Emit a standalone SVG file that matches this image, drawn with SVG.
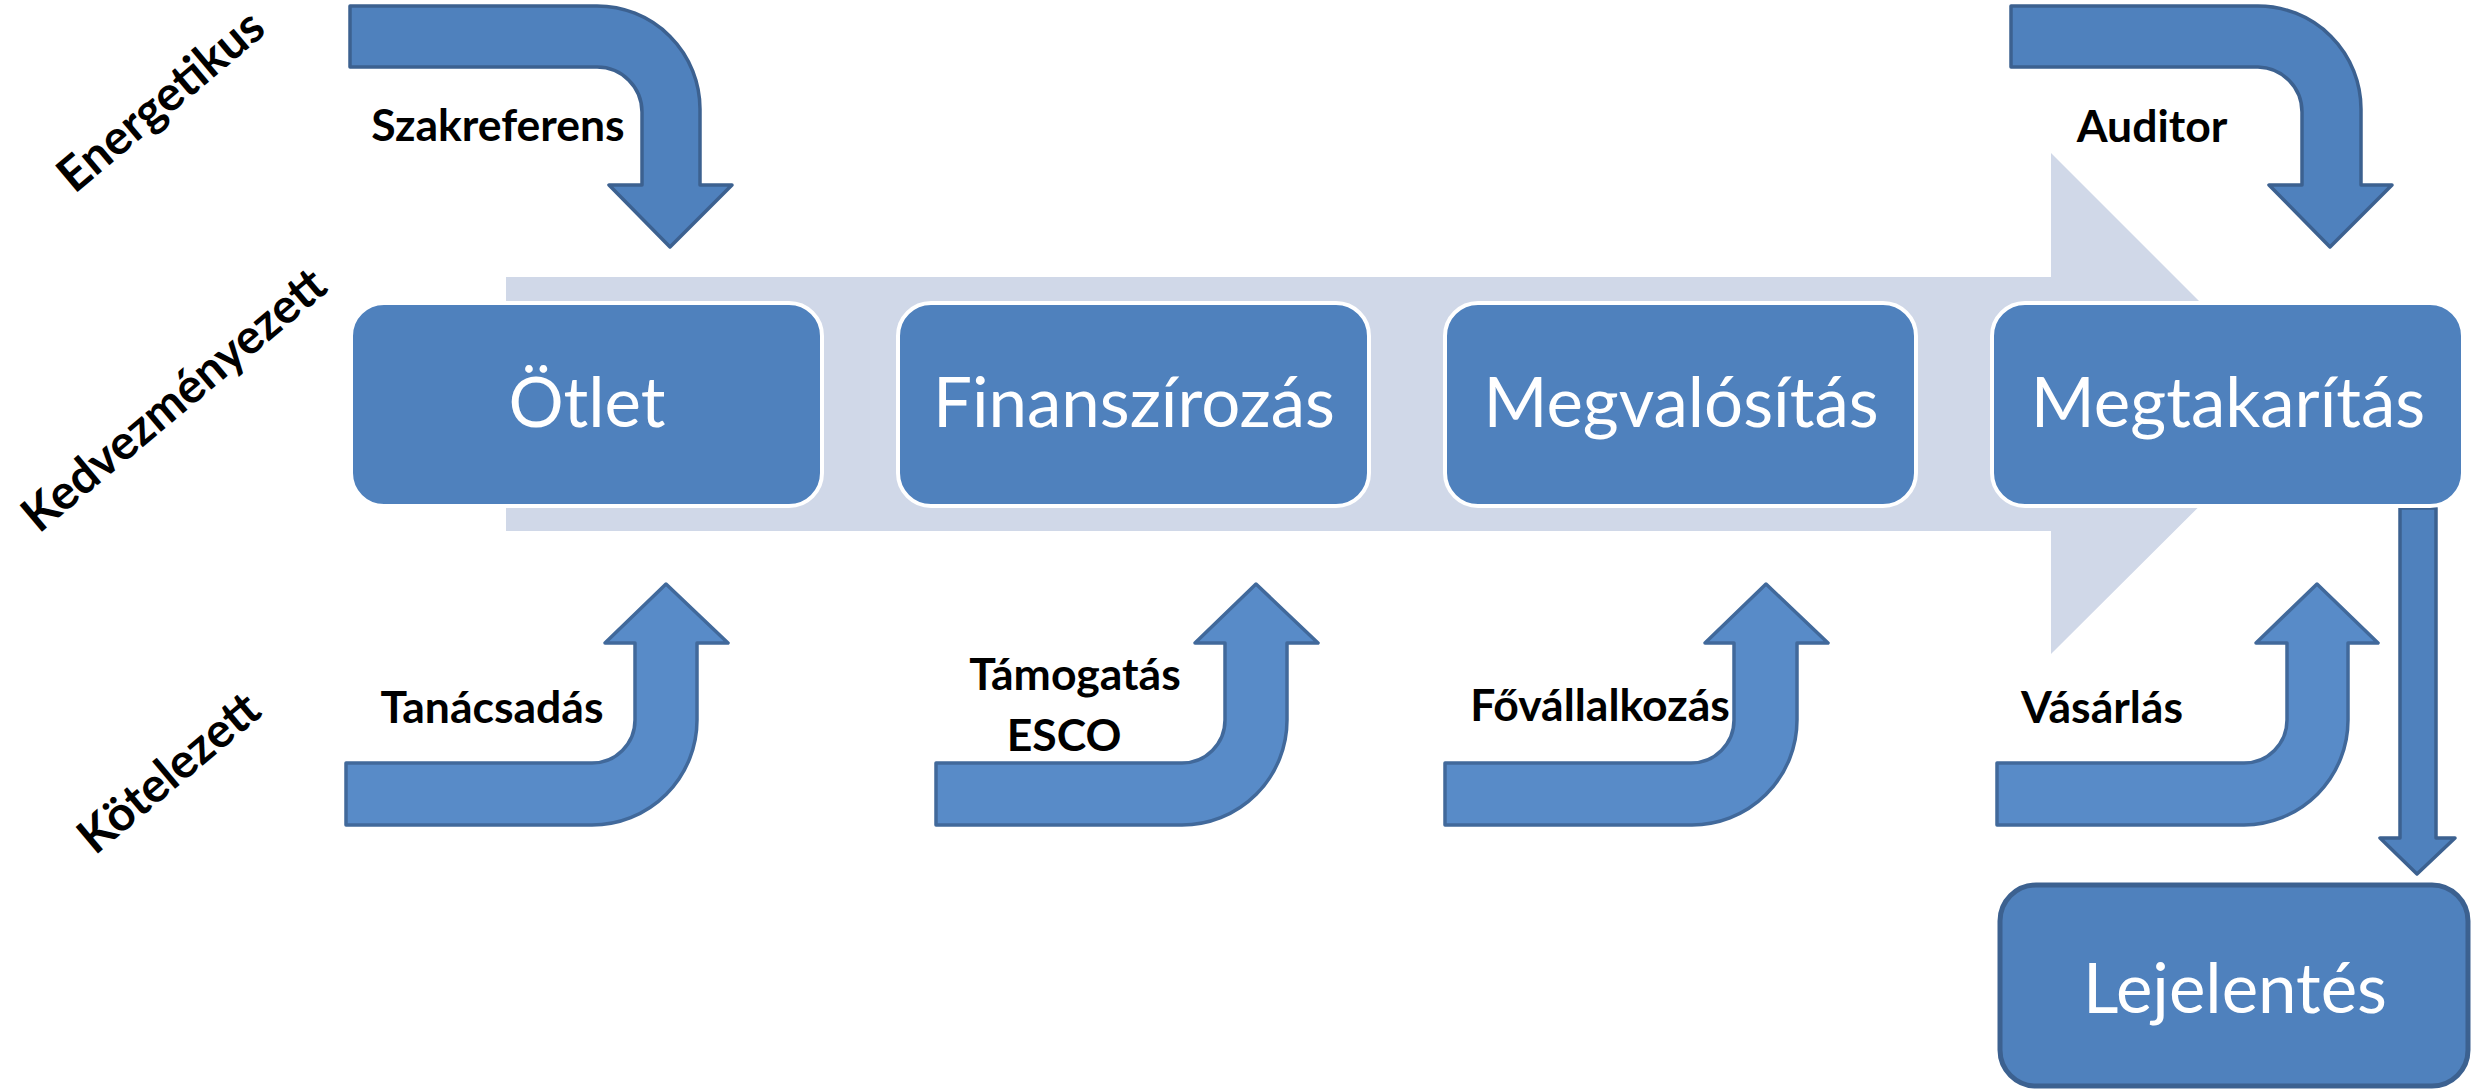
<svg xmlns="http://www.w3.org/2000/svg" width="2478" height="1090" viewBox="0 0 2478 1090">
<style>
.bg{fill:#D0D8E8}
.box{fill:#4F81BD;stroke:#FFFFFF;stroke-width:4}
.box2{fill:#4F81BD;stroke:#3C6190;stroke-width:5}
.btxt{font-family:Lato,"Open Sans",sans-serif;font-size:69px;fill:#FFFFFF;text-anchor:middle}
.arr-top{fill:#4F81BD;stroke:#3C6190;stroke-width:3.5;stroke-linejoin:round}
.arr-bot{fill:#588BC8;stroke:#41699B;stroke-width:3.5;stroke-linejoin:round}
.lbl{font-family:Lato,"Open Sans",sans-serif;font-weight:700;font-size:44.5px;fill:#000000;text-anchor:middle}
.side{font-family:Lato,"Open Sans",sans-serif;font-weight:700;font-size:48px;fill:#000000;text-anchor:middle}
</style>
<polygon id="flow-background" class="bg" points="506,277 2051,277 2051,153 2302,404 2051,654 2051,531 506,531"/>
<g id="connectors">
  <path id="arr-szakreferens" class="arr-top" d="M350,6 H597 A103,103 0 0 1 700,109 V185 H732 L670,247 L609,185 H642 V112 A45,45 0 0 0 597,67 H350 Z"/>
  <path id="arr-auditor" class="arr-top" d="M2011,6 H2258 A103,103 0 0 1 2361,109 V185 H2392 L2330,247 L2269,185 H2302 V112 A45,45 0 0 0 2258,67 H2011 Z"/>
  <path id="arr-tanacsadas" class="arr-bot" d="M346,825 V763 H592 A43,43 0 0 0 635,720 V643 H605 L666,584 L728,643 H697 V720 A105,105 0 0 1 592,825 Z"/>
  <path id="arr-tamogatas" class="arr-bot" d="M936,825 V763 H1182 A43,43 0 0 0 1225,720 V643 H1195 L1256,584 L1318,643 H1287 V720 A105,105 0 0 1 1182,825 Z"/>
  <path id="arr-fovallalkozas" class="arr-bot" d="M1445,825 V763 H1691 A43,43 0 0 0 1734,720 V643 H1705 L1766,584 L1828,643 H1797 V720 A105,105 0 0 1 1691,825 Z"/>
  <path id="arr-vasarlas" class="arr-bot" d="M1997,825 V763 H2244 A43,43 0 0 0 2287,720 V643 H2256 L2317,584 L2378,643 H2348 V720 A105,105 0 0 1 2244,825 Z"/>
  <path id="arr-lejelentes" class="arr-top" d="M2400,508 H2436 V838 H2455 L2417,874 L2380,838 H2400 Z"/>
  <text class="lbl" x="498" y="141">Szakreferens</text>
  <text class="lbl" x="2152" y="142">Auditor</text>
  <text class="lbl" x="492" y="723">Tanácsadás</text>
  <text class="lbl" x="1075" y="690">Támogatás</text>
  <text class="lbl" x="1064" y="751">ESCO</text>
  <text class="lbl" x="1600" y="721">Fővállalkozás</text>
  <text class="lbl" x="2102" y="723">Vásárlás</text>
</g>
<g id="node-otlet">
  <rect class="box" x="351" y="303" width="471" height="203" rx="33"/>
  <text class="btxt" x="587" y="427">Ötlet</text>
</g>
<g id="node-finanszirozas">
  <rect class="box" x="898" y="303" width="471" height="203" rx="33"/>
  <text class="btxt" x="1134" y="427">Finanszírozás</text>
</g>
<g id="node-megvalositas">
  <rect class="box" x="1445" y="303" width="471" height="203" rx="33"/>
  <text class="btxt" x="1681" y="427">Megvalósítás</text>
</g>
<g id="node-megtakaritas">
  <rect class="box" x="1992" y="303" width="471" height="203" rx="33"/>
  <text class="btxt" x="2228" y="427">Megtakarítás</text>
</g>
<g id="node-lejelentes">
  <rect class="box2" x="2000" y="885" width="468" height="201" rx="36"/>
  <text class="btxt" x="2235" y="1013">Lejelentés</text>
</g>
<g id="row-labels">
  <text class="side" transform="translate(161,101) rotate(-40)" y="16">Energetikus</text>
  <text class="side" transform="translate(174,400) rotate(-40)" y="16">Kedvezményezett</text>
  <text class="side" transform="translate(169,773) rotate(-40)" y="16">Kötelezett</text>
</g>
</svg>
